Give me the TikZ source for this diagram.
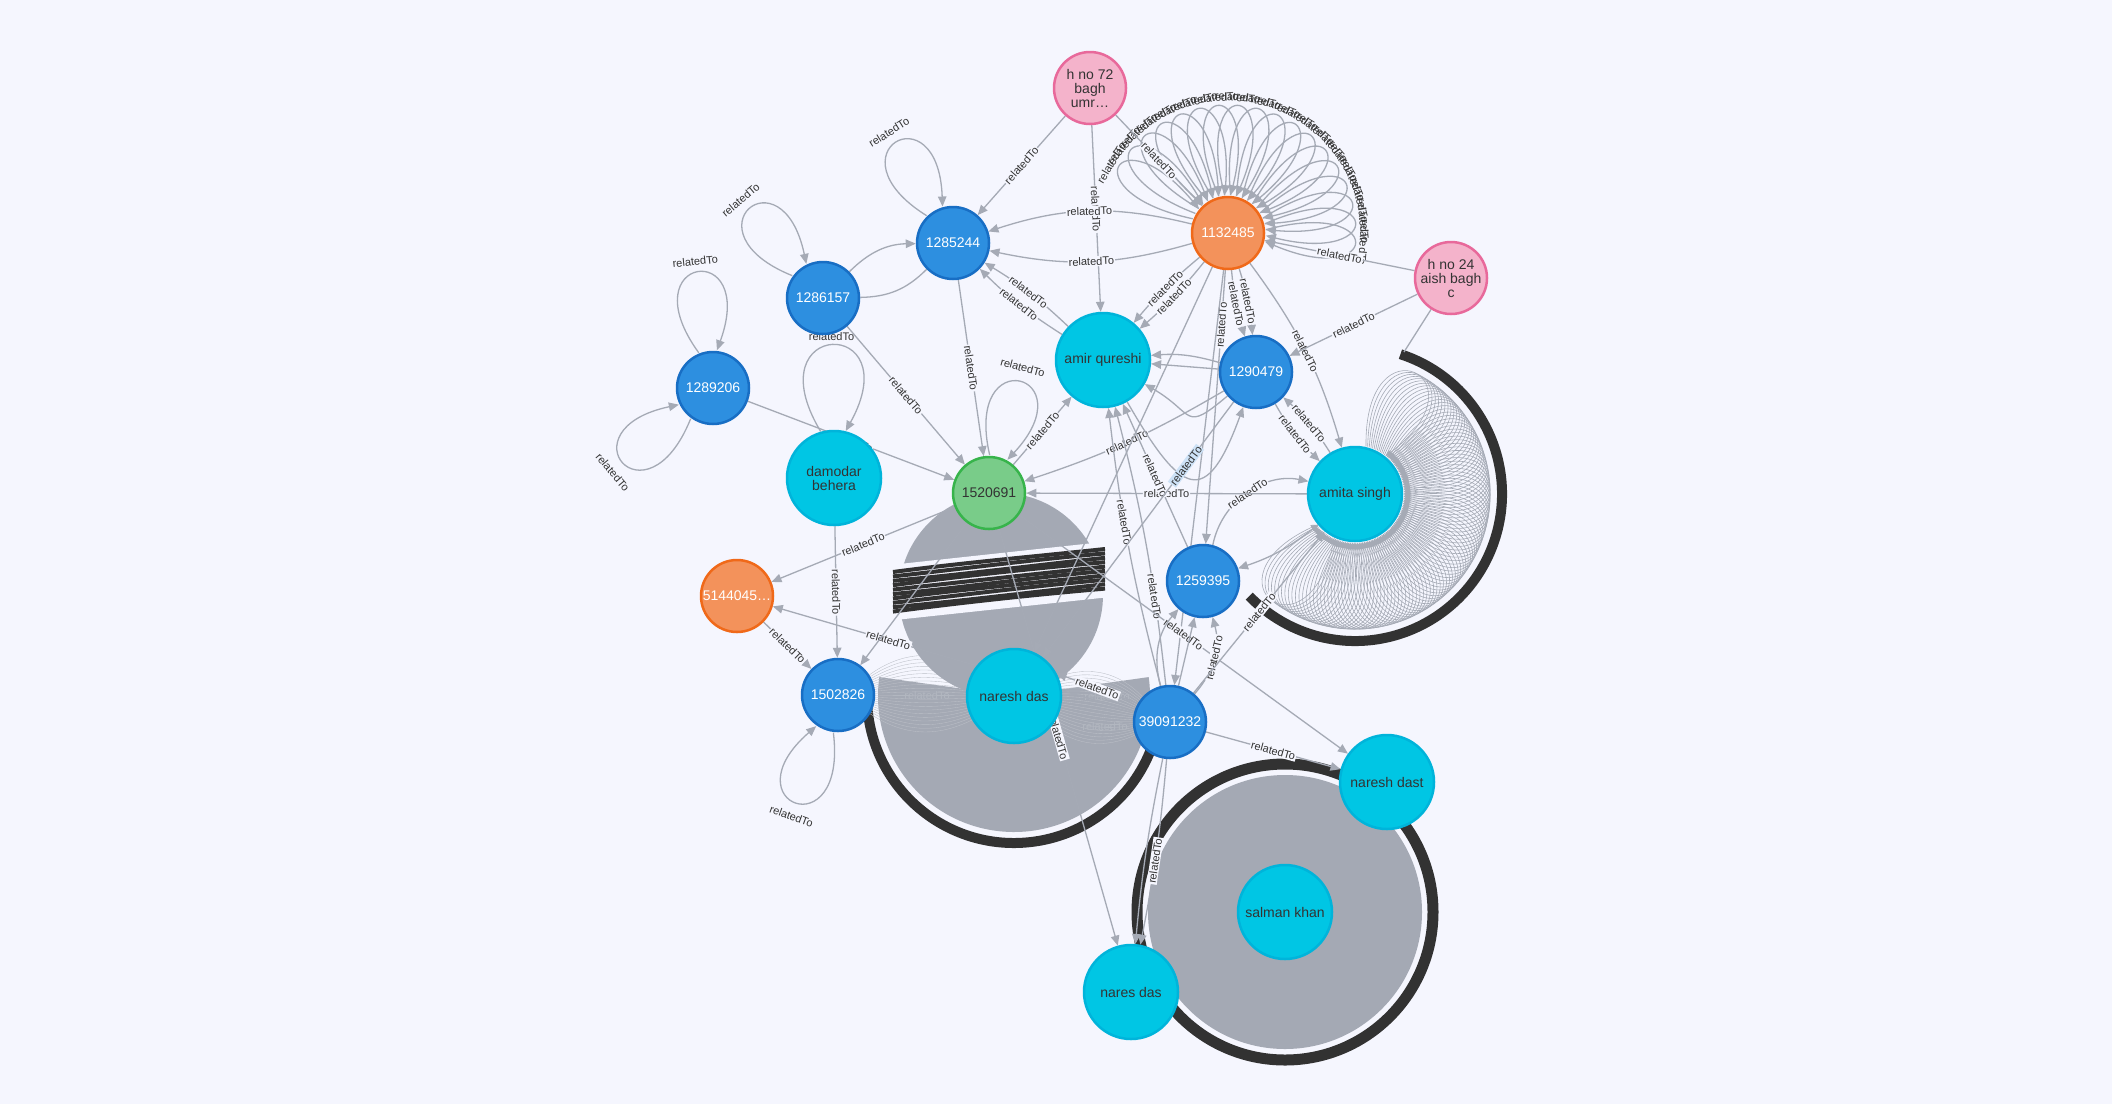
\documentclass[tikz,border=0pt]{standalone}
\usepackage{fontspec}
\setmainfont{Liberation Sans}
\usetikzlibrary{arrows.meta}
\pgfdeclarelayer{blob}
\pgfdeclarelayer{edges}
\pgfsetlayers{blob,edges,main}
\definecolor{bgc}{RGB}{245,246,254}
\definecolor{edgec}{RGB}{165,170,181}
\definecolor{txt}{RGB}{51,51,51}
\definecolor{pinkf}{RGB}{244,179,203}
\definecolor{pinkb}{RGB}{232,105,155}
\definecolor{orf}{RGB}{243,146,91}
\definecolor{orb}{RGB}{240,105,25}
\definecolor{bluef}{RGB}{45,143,224}
\definecolor{blueb}{RGB}{24,110,196}
\definecolor{cyanf}{RGB}{0,198,228}
\definecolor{cyanb}{RGB}{0,180,218}
\definecolor{greenf}{RGB}{121,204,137}
\definecolor{greenb}{RGB}{55,180,75}
\definecolor{blobc}{RGB}{164,169,180}
\definecolor{darkc}{RGB}{50,50,50}
\definecolor{hl}{RGB}{205,226,247}
\tikzset{
  basenode/.style={circle, line width=2.5pt, minimum size=72pt, inner sep=0pt, align=center, font=\fontsize{14}{14}\selectfont},
  bignode/.style={minimum size=94pt},
  bluen/.style={basenode, fill=bluef, draw=blueb, text=white},
  orn/.style={basenode, fill=orf, draw=orb, text=white},
  pinkn/.style={basenode, fill=pinkf, draw=pinkb, text=txt},
  cyann/.style={basenode, bignode, fill=cyanf, draw=cyanb, text=txt},
  greenn/.style={basenode, fill=greenf, draw=greenb, text=txt},
  rel/.style={draw=edgec, line width=1.3pt, -{Triangle[length=10pt,width=8.5pt]}},
  relplain/.style={draw=edgec, line width=1.3pt},
  loopg/.style={draw=edgec, line width=0.6pt, -{Triangle[length=6pt,width=5pt]}},
  wing/.style={draw=edgec!75!white, line width=0.35pt},
  lbl/.style={fill=bgc, text=txt, font=\fontsize{11}{11}\selectfont, inner sep=1pt, sloped},
  lblh/.style={lbl, fill=hl},
  lbltxt/.style={text=txt, font=\fontsize{11}{11}\selectfont, inner sep=0pt},
}
% #1 node, #2 axis, #3 half span, #4 ctrl dist, #5 border radius, #6 label dist, #7 label rotation
\newcommand\sloop[7]{%
  \draw[rel] ([shift={(#2+#3:#5)}]#1.center) .. controls +(#2+2*#3:#4) and +(#2-2*#3:#4) .. ([shift={(#2-#3:#5)}]#1.center);
  \node[lbltxt, rotate=#7] at ([shift={(#2:#6)}]#1.center) {relatedTo};}
\begin{document}
\begin{tikzpicture}[x=1pt,y=1pt]
\useasboundingbox (0,0) rectangle (2112,-1104);
% nodes
\node[pinkn] (h72) at (1090,-88) {h no 72\\bagh\\umr…};
\node[orn] (o1) at (1228,-233) {1132485};
\node[pinkn] (h24) at (1451,-278) {h no 24\\aish bagh\\c};
\node[bluen] (b44) at (953,-243) {1285244};
\node[bluen] (b57) at (823,-298) {1286157};
\node[bluen] (b06) at (713,-388) {1289206};
\node[cyann] (dam) at (834,-478) {damodar\\behera};
\node[greenn] (g91) at (989,-493) {1520691};
\node[cyann] (amir) at (1103,-360) {amir qureshi};
\node[bluen] (b79) at (1256,-372) {1290479};
\node[cyann] (amita) at (1355,-494) {amita singh};
\node[bluen] (b95) at (1203,-581) {1259395};
\node[orn] (o2) at (737,-596) {5144045…};
\node[bluen] (b26) at (838,-695) {1502826};
\node[cyann] (nd) at (1014,-696) {naresh das};
\node[bluen] (b32) at (1170,-722) {39091232};
\node[cyann] (ndt) at (1387,-782) {naresh dast};
\node[cyann] (sk) at (1285,-912) {salman khan};
\node[cyann] (nrd) at (1131,-992) {nares das};

\begin{pgfonlayer}{blob}
\fill[bgc] (0,0) rectangle (2112,-1104);
% salman khan ring
\draw[darkc, line width=11pt] (sk.center) circle[radius=148];
\fill[blobc] (sk.center) circle[radius=137];
% naresh das lower half disk
\fill[blobc] (nd.center) -- ++(172:136) arc[start angle=172, end angle=368, radius=136] -- cycle;
\draw[darkc, line width=10pt] ([shift={(184:147)}]nd.center) arc[start angle=184, end angle=338, radius=147];
% wings
\foreach \b in {-30,-27,...,34} {\draw[wing] (b26) to[bend left=\b] (nd);}
\foreach \b in {-30,-27,...,34} {\draw[wing] (nd) to[bend left=\b] (b32);}
\node[lbltxt, text=edgec!85!white] at (927,-696) {relatedTo};
\node[lbltxt, text=edgec!85!white] at (1107,-697) {relatedTo};
\node[lbltxt, text=edgec!85!white] at (1105,-727) {relatedTo};
% upper disk with band
\fill[blobc] (1001,-595) circle[radius=102];
\fill[bgc] (890,-565) -- (1103,-542) -- (1110,-597) -- (895,-620) -- cycle;
\foreach \i in {0,...,9} {
  \draw[darkc, line width=4pt] (893,{-(572+4.4*\i)}) .. controls (960,{-(563+4.4*\i+1.5*mod(\i,3))}) and (1040,{-(556+4.4*\i-1.5*mod(\i,2))}) .. (1105,{-(549+4.4*\i)});
}
% amita singh loops and ring
\foreach \a in {-128,-126,...,64} {
  \draw[loopg] ([shift={(\a+13:49)}]amita.center) .. controls +(\a+27:130) and +(\a-27:130) .. ([shift={(\a-13:49)}]amita.center);
}
\draw[darkc, line width=10pt] ([shift={(72:147)}]amita.center) arc[start angle=72, end angle=-136, radius=147];
\end{pgfonlayer}

\begin{pgfonlayer}{edges}
% 1132485 self loops
\foreach \a in {-4,5,...,149} {
  \draw[rel] ([shift={(\a+9:38)}]o1.center) .. controls +(\a+19:126) and +(\a-19:126) .. ([shift={(\a-9:38)}]o1.center);
  \node[lbltxt, rotate=\a-90] at ([shift={(\a:136)}]o1.center) {relatedTo};
}
% other self loops
\sloop{b06}{98}{14}{120}{38}{128}{6}
\sloop{b06}{220}{14}{120}{38}{131}{-50}
\sloop{b57}{130}{14}{118}{38}{128}{40}
\sloop{b44}{120}{14}{118}{38}{128}{32}
\sloop{dam}{91}{15}{132}{48.5}{141}{0}
\sloop{g91}{75}{14}{118}{38}{130}{-15}
\sloop{b26}{249}{14}{118}{38}{130}{-20}
% edges
\draw[rel] (h72) -- node[lbl]{relatedTo} (b44);
\draw[rel] (h72) -- node[lbl,pos=.45]{relatedTo} (amir);
\draw[rel] (h72) -- node[lbl]{relatedTo} (o1);
\draw[rel] (o1) to[bend right=16] node[lbl]{relatedTo} (b44);
\draw[rel] (o1) to[bend left=14] node[lbl]{relatedTo} (b44);
\draw[rel] (b57) to[bend left=22] (b44);
\draw[relplain] (b44) to[bend left=22] (b57);
\draw[rel] (amir) to[bend left=6] node[lbl]{relatedTo} (b44);
\draw[rel] (amir) to[bend right=6] node[lbl]{relatedTo} (b44);
\draw[rel] (b44) -- node[lbl]{relatedTo} (g91);
\draw[rel] (b57) -- node[lbl]{relatedTo} (g91);
\draw[rel] (b06) -- node[lbl]{relatedTo} (g91);
\draw[rel] (dam) -- node[lbl]{relatedTo} (b26);
\draw[rel] (g91) -- node[lbl]{relatedTo} (o2);
\draw[rel] (o2) -- node[lbl]{relatedTo} (b26);
\draw[rel] (b32) -- node[lbl,pos=.68]{relatedTo} (o2);
\draw[rel] (g91) -- (b26);
\draw[rel] (g91) -- node[lbl]{relatedTo} (amir);
\draw[rel] (o1) to[bend left=5] node[lbl]{relatedTo} (amir);
\draw[rel] (o1) to[bend right=5] node[lbl]{relatedTo} (amir);
\draw[rel] (o1) to[bend left=6] node[lbl]{relatedTo} (b79);
\draw[rel] (o1) to[bend right=6] node[lbl]{relatedTo} (b79);
\draw[rel] (o1) to[bend left=10] node[lbl]{relatedTo} (amita);
\draw[rel] (h24) -- node[lbl]{relatedTo} (b79);
\draw[rel] (h24) -- node[lbl]{relatedTo} (o1);
\coordinate (ringtop) at (1404,-352);
\draw[relplain] (h24) -- (ringtop);
\draw[rel] (amita) to[bend right=8] node[lbl]{relatedTo} (b79);
\draw[rel] (b79) to[bend right=8] node[lbl]{relatedTo} (amita);
\draw[rel] (amita) to[bend left=10] (b95);
\draw[rel] (b95) to[bend left=45] node[lbl]{relatedTo} (amita);
\draw[rel] (amita) -- node[lbl]{relatedTo} (g91);
\draw[rel] (b79) to[bend left=6] node[lbl]{relatedTo} (g91);
\draw[rel] (amir) to[out=-60,in=-110,looseness=2.4] (b79);
\draw[rel] (b79) to[out=-140,in=-30,looseness=1.8] (amir);
\draw[rel] (b79) -- (amir);
\draw[rel] (b79) to[bend right=10] (amir);
\draw[rel] (b32) to[bend left=4] node[lbl,pos=.6]{relatedTo} (amir);
\draw[rel] (b32) to[bend right=4] node[lbl,pos=.3]{relatedTo} (amir);
\draw[rel] (b95) -- node[lbl]{relatedTo} (amir);
\draw[rel] (o1) -- node[lbl,pos=.2]{relatedTo} (b95);
\draw[rel] (o1) -- (b32);
\draw[rel] (o1) -- (nd);
\draw[rel] (b32.150) -- node[lbl]{relatedTo} (nd.28);
\draw[rel] (b32) -- node[lbl]{relatedTo} (ndt);
\draw[rel] (g91) -- node[lbl]{relatedTo} (ndt);
\draw[rel] (g91) -- node[lbl]{relatedTo} (nrd);
\draw[rel] (b32) to[bend left=3] node[lbl,pos=.55]{relatedTo} (nrd);
\draw[rel] (b32) to[bend right=3] (nrd);
\draw[rel] (b32) -- (b95);
\draw[rel] (b32) to[bend left=28] (b95);
\draw[rel] (b32) to[bend right=28] node[lbl]{relatedTo} (b95);
\draw[rel] (b32) -- node[lbl]{relatedTo} (amita);
\draw[rel] (b79) -- node[lblh,pos=.25]{relatedTo} (nd);
\end{pgfonlayer}
\end{tikzpicture}
\end{document}
